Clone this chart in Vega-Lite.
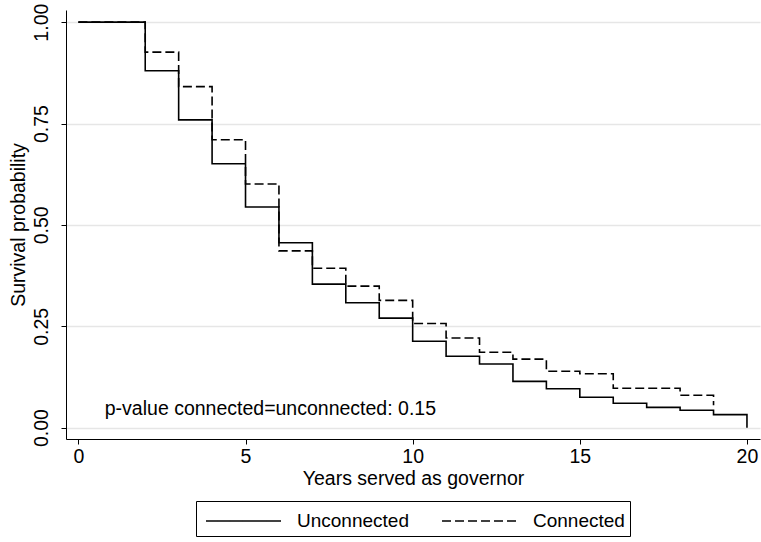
{
  "$schema": "https://vega.github.io/schema/vega-lite/v6.json",
  "width": 761,
  "height": 542,
  "autosize": {"type": "fit", "contains": "padding"},
  "padding": {"left": 8, "top": 6, "right": 1, "bottom": 5},
  "background": "white",
  "config": {
    "view": {"stroke": null},
    "font": "Liberation Sans",
    "axis": {
      "domainColor": "black",
      "domainWidth": 1,
      "tickColor": "black",
      "tickSize": 5,
      "tickWidth": 1,
      "labelFontSize": 19.5,
      "labelColor": "black",
      "titleFontSize": 19.5,
      "titleColor": "black",
      "titleFontWeight": "normal",
      "gridColor": "#e6e6e6",
      "gridWidth": 1.5
    },
    "legend": {
      "layout": {"bottom": {"anchor": "middle"}}
    }
  },
  "layer": [
    {
      "data": {
        "values": [
          {"t": 0, "s": 1.0, "group": "Unconnected"},
          {"t": 2, "s": 0.880, "group": "Unconnected"},
          {"t": 3, "s": 0.759, "group": "Unconnected"},
          {"t": 4, "s": 0.651, "group": "Unconnected"},
          {"t": 5, "s": 0.544, "group": "Unconnected"},
          {"t": 6, "s": 0.456, "group": "Unconnected"},
          {"t": 7, "s": 0.354, "group": "Unconnected"},
          {"t": 8, "s": 0.308, "group": "Unconnected"},
          {"t": 9, "s": 0.270, "group": "Unconnected"},
          {"t": 10, "s": 0.213, "group": "Unconnected"},
          {"t": 11, "s": 0.176, "group": "Unconnected"},
          {"t": 12, "s": 0.157, "group": "Unconnected"},
          {"t": 13, "s": 0.114, "group": "Unconnected"},
          {"t": 14, "s": 0.096, "group": "Unconnected"},
          {"t": 15, "s": 0.075, "group": "Unconnected"},
          {"t": 16, "s": 0.060, "group": "Unconnected"},
          {"t": 17, "s": 0.050, "group": "Unconnected"},
          {"t": 18, "s": 0.043, "group": "Unconnected"},
          {"t": 19, "s": 0.032, "group": "Unconnected"},
          {"t": 20, "s": 0.0, "group": "Unconnected"},
          {"t": 0, "s": 1.0, "group": "Connected"},
          {"t": 2, "s": 0.926, "group": "Connected"},
          {"t": 3, "s": 0.841, "group": "Connected"},
          {"t": 4, "s": 0.710, "group": "Connected"},
          {"t": 5, "s": 0.601, "group": "Connected"},
          {"t": 6, "s": 0.436, "group": "Connected"},
          {"t": 7, "s": 0.393, "group": "Connected"},
          {"t": 8, "s": 0.349, "group": "Connected"},
          {"t": 9, "s": 0.314, "group": "Connected"},
          {"t": 10, "s": 0.257, "group": "Connected"},
          {"t": 11, "s": 0.221, "group": "Connected"},
          {"t": 12, "s": 0.186, "group": "Connected"},
          {"t": 13, "s": 0.169, "group": "Connected"},
          {"t": 14, "s": 0.139, "group": "Connected"},
          {"t": 15, "s": 0.133, "group": "Connected"},
          {"t": 16, "s": 0.097, "group": "Connected"},
          {"t": 18, "s": 0.080, "group": "Connected"},
          {"t": 19, "s": 0.055, "group": "Connected"}
        ]
      },
      "mark": {"type": "line", "interpolate": "step-after", "strokeWidth": 1.6, "color": "black"},
      "encoding": {
        "x": {
          "field": "t", "type": "quantitative",
          "scale": {"domain": [-0.37, 20.39], "nice": false, "zero": false},
          "axis": {"values": [0, 5, 10, 15, 20], "title": "Years served as governor", "grid": false, "labelPadding": 3, "titlePadding": 4}
        },
        "y": {
          "field": "s", "type": "quantitative",
          "scale": {"domain": [-0.028, 1.03], "nice": false, "zero": false},
          "axis": {"values": [0, 0.25, 0.5, 0.75, 1], "format": ".2f", "title": "Survival probability", "grid": true, "labelAngle": 270, "labelPadding": 10, "titlePadding": 3}
        },
        "strokeDash": {
          "field": "group", "type": "nominal",
          "scale": {"domain": ["Unconnected", "Connected"], "range": [[1, 0], [9, 4]]},
          "legend": {
            "orient": "bottom",
            "direction": "horizontal",
            "title": null,
            "symbolType": "M-0.714,0H4.643",
            "symbolSize": 784,
            "symbolStrokeColor": "black",
            "symbolStrokeWidth": 1.5,
            "labelFontSize": 19,
            "labelColor": "black",
            "labelOffset": 66,
            "columnPadding": 28,
            "strokeColor": "black",
            "padding": 5,
            "offset": 13
          }
        }
      }
    },
    {
      "data": {"values": [{"t": 0.79, "s": 0.047, "label": "p-value connected=unconnected: 0.15"}]},
      "mark": {"type": "text", "align": "left", "baseline": "middle", "fontSize": 19.5, "color": "black"},
      "encoding": {
        "x": {"field": "t", "type": "quantitative"},
        "y": {"field": "s", "type": "quantitative"},
        "text": {"field": "label"}
      }
    }
  ]
}
